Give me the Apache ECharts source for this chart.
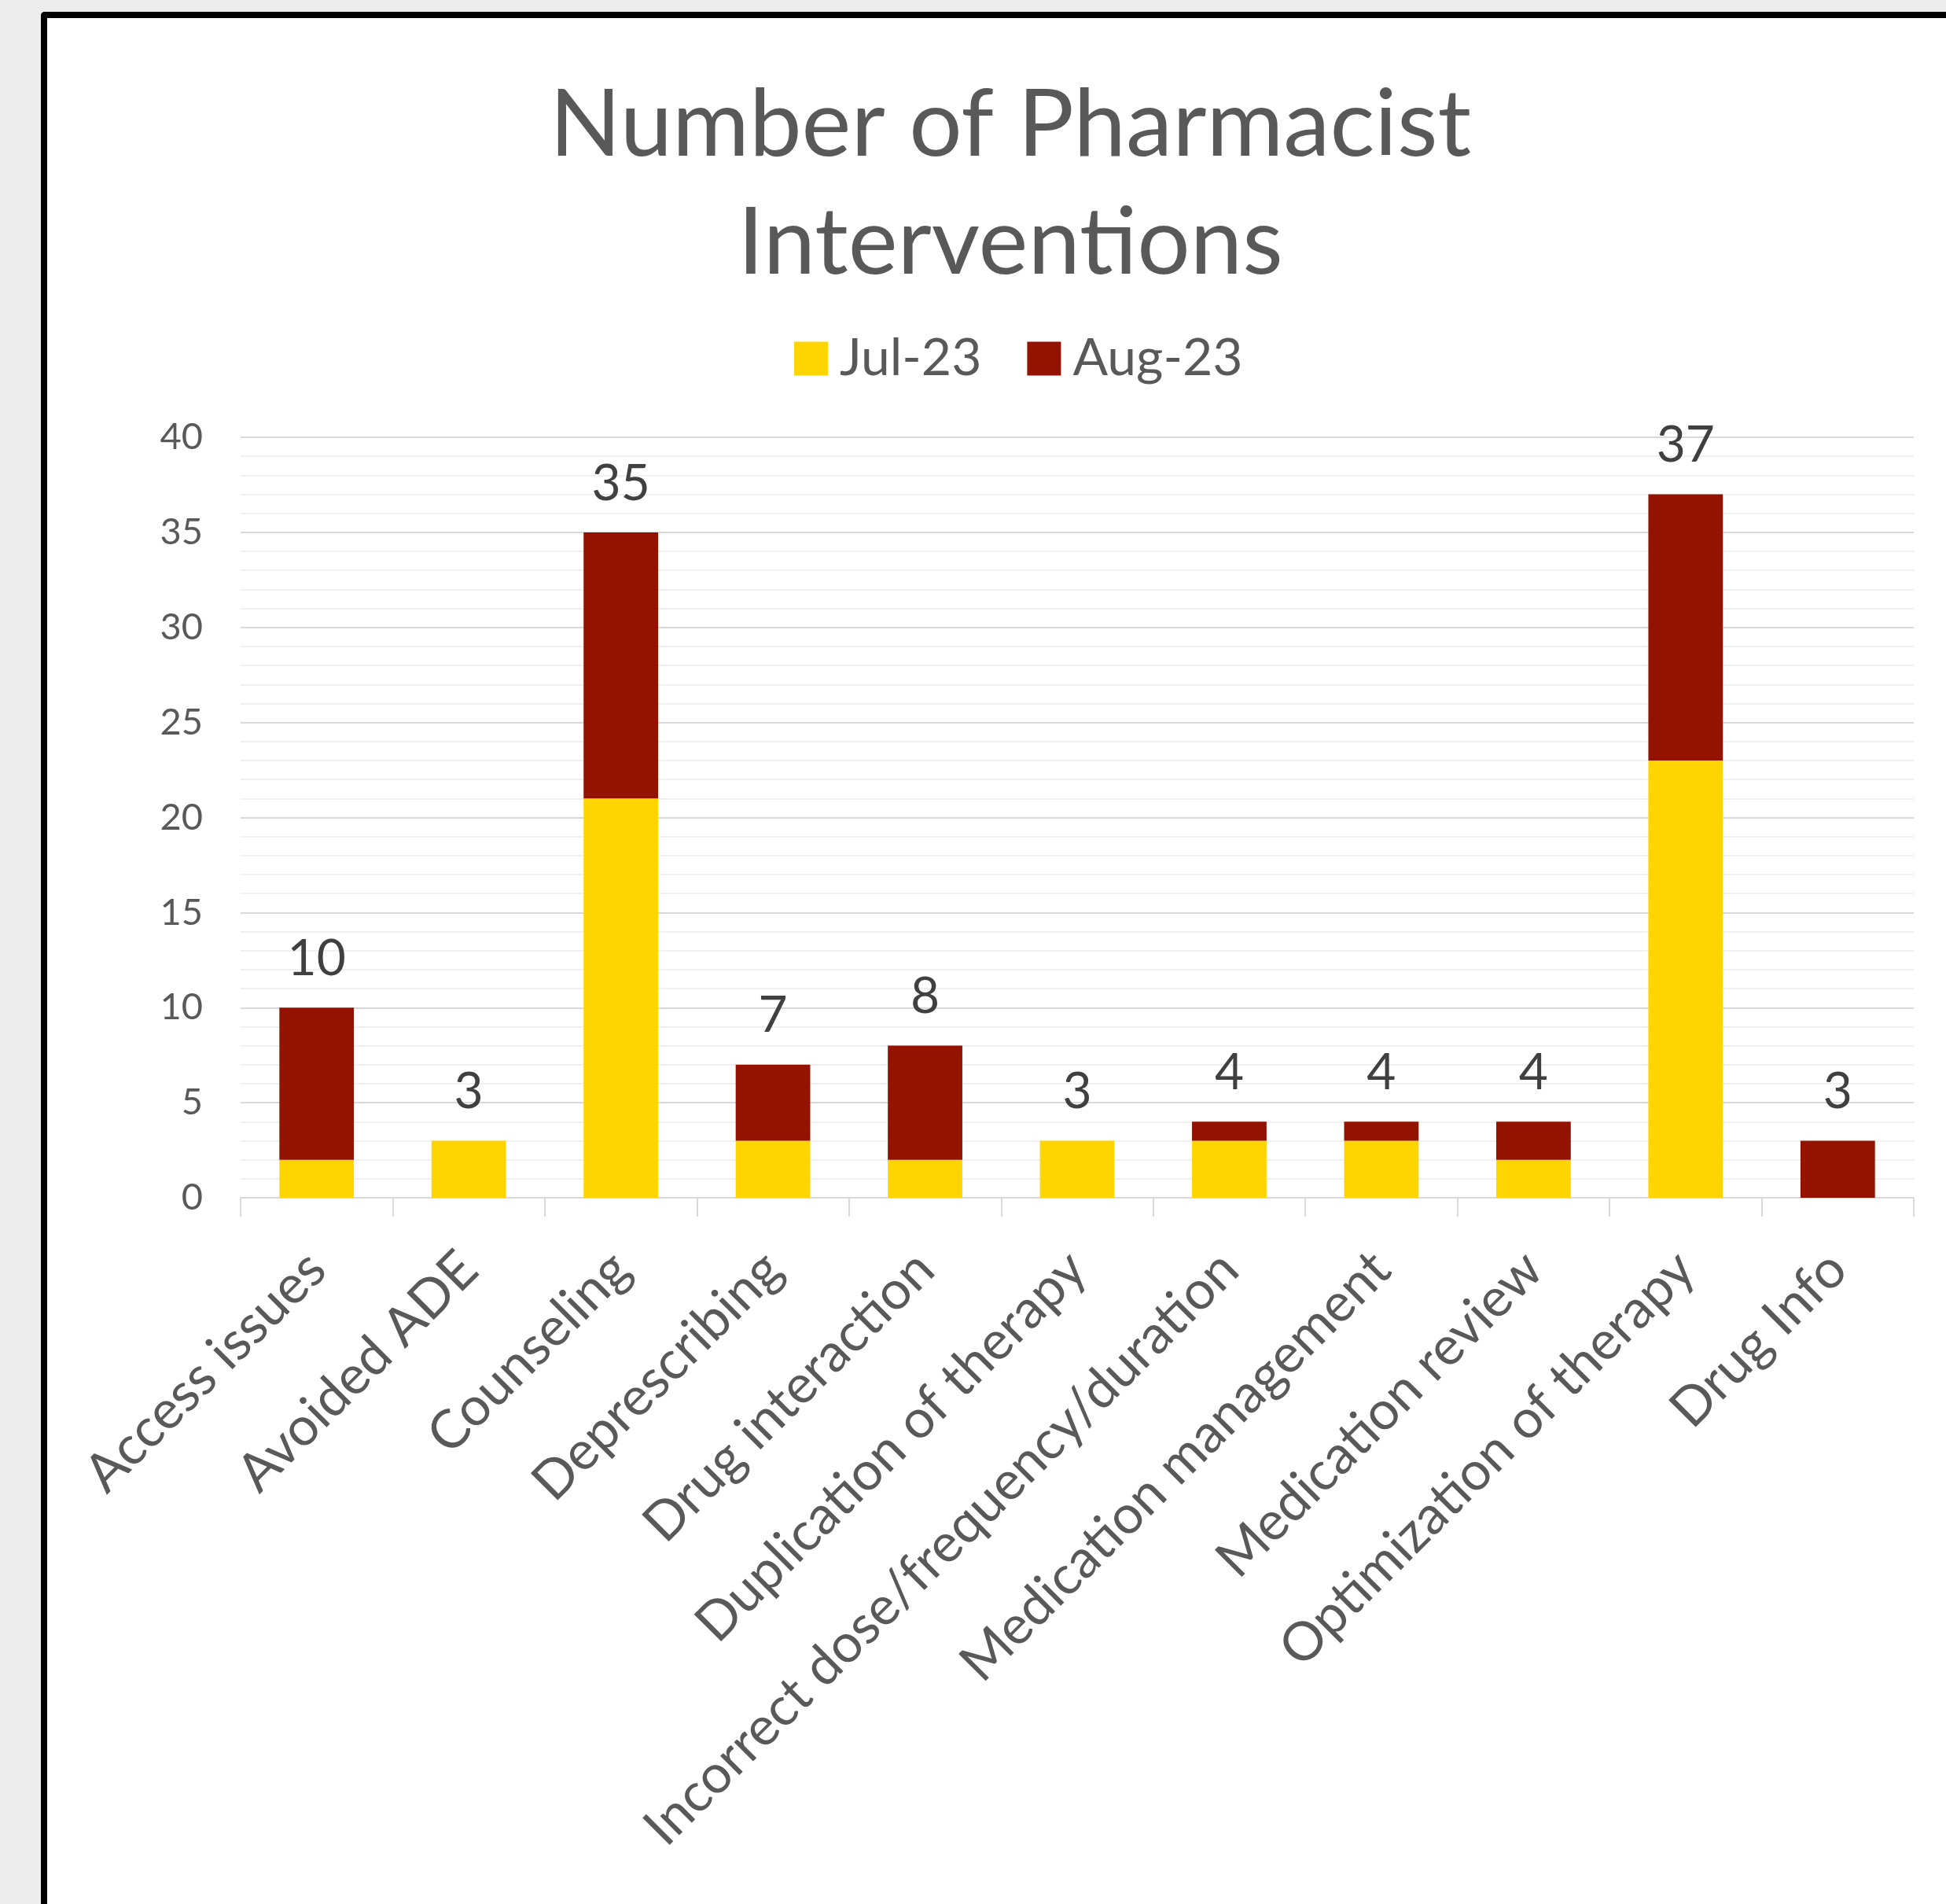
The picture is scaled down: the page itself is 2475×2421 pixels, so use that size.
<!DOCTYPE html>
<html>
<head>
<meta charset="utf-8">
<script src="https://cdn.jsdelivr.net/npm/echarts@6/dist/echarts.min.js"></script>
<style>
  html, body { margin:0; padding:0; width:2475px; height:2421px; background:#ececec; overflow:hidden; }
  #panel { position:absolute; left:52px; top:15px; width:2500px; height:2500px; background:#fff;
           border-top:8px solid #000; border-left:8px solid #000; border-top-left-radius:5px; }
  #chart { position:absolute; left:0; top:0; width:2475px; height:2421px; }
</style>
</head>
<body>
<div id="panel"></div>
<div id="chart"></div>
<script>
const categories = ["Access issues","Avoided ADE","Counseling","Deprescribing","Drug interaction",
  "Duplication of therapy","Incorrect dose/frequency/duration","Medication management",
  "Medication review","Optimization of therapy","Drug Info"];
const jul23 = [2, 3, 21, 3, 2, 3, 3, 3, 2, 23, 0];
const aug23 = [8, 0, 14, 4, 6, 0, 1, 1, 2, 14, 3];
const seriesNames = ["Jul-23", "Aug-23"];
const yTicks = [0, 5, 10, 15, 20, 25, 30, 35, 40];

const totals = categories.map((c, i) => jul23[i] + aug23[i]);
const FONT = 'Lato';

const chart = echarts.init(document.getElementById('chart'), null, { renderer: 'canvas' });
chart.setOption({
  backgroundColor: 'transparent',
  animation: false,
  title: {
    text: 'Number of Pharmacist\nInterventions',
    left: 1280, textAlign: 'center', top: 80,
    textStyle: { fontFamily: FONT, fontSize: 119, fontWeight: 'normal', color: '#595959', lineHeight: 150 }
  },
  legend: {
    data: seriesNames, left: 1005, top: 418,
    itemWidth: 43, itemHeight: 43, itemGap: 58, icon: 'rect',
    textStyle: { fontFamily: FONT, fontSize: 66, color: '#595959', padding: [0, 0, 0, 10] }
  },
  grid: { left: 306, right: 41, top: 556, bottom: 898, containLabel: false },
  xAxis: {
    type: 'category', data: categories,
    axisLine: { lineStyle: { color: '#d9d9d9', width: 2 } },
    axisTick: { show: true, length: 24, lineStyle: { color: '#d9d9d9', width: 2 } },
    axisLabel: { rotate: 45, margin: 80, interval: 0, fontFamily: FONT, fontSize: 68, color: '#595959' }
  },
  yAxis: {
    type: 'value', min: yTicks[0], max: yTicks[yTicks.length - 1], interval: 5,
    axisLine: { show: false }, axisTick: { show: false },
    axisLabel: { margin: 48, fontFamily: FONT, fontSize: 47, color: '#595959' },
    splitLine: { lineStyle: { color: '#d9d9d9', width: 2 } },
    minorTick: { show: false, splitNumber: 5 },
    minorSplitLine: { show: true, lineStyle: { color: '#f0f0f0', width: 2 } }
  },
  series: [
    { name: seriesNames[0], type: 'bar', stack: 'total', data: jul23, barWidth: '49%',
      itemStyle: { color: '#FFD500' } },
    { name: seriesNames[1], type: 'bar', stack: 'total', data: aug23, barWidth: '49%',
      itemStyle: { color: '#931200' },
      label: { show: true, position: 'top', distance: 30, fontFamily: FONT, fontSize: 64, color: '#404040',
        formatter: p => String(totals[p.dataIndex]) } }
  ]
});
</script>
</body>
</html>
